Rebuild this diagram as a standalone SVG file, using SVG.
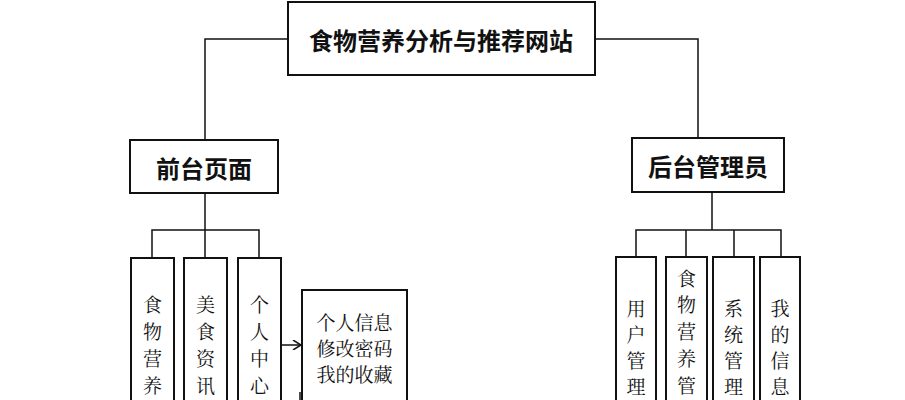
<svg xmlns="http://www.w3.org/2000/svg" width="905" height="400" viewBox="0 0 905 400">
<style>
rect{fill:#fff;stroke:#111;stroke-width:2}
.c{stroke:#111;stroke-width:1.5;fill:none}
text{font-family:"Noto Sans CJK SC",sans-serif;fill:#111;text-anchor:middle;dominant-baseline:central}
.b{font-size:24px;font-weight:bold}
.v{font-size:19px;font-family:"Noto Serif CJK SC","Noto Sans CJK SC",serif}
</style>
<defs><marker id="a" markerWidth="10" markerHeight="10" refX="9" refY="5" orient="auto" markerUnits="userSpaceOnUse"><path d="M1,0 L9,5 L1,10" fill="none" stroke="#111" stroke-width="1.5"/></marker></defs>
<g id="connectors">
<path class="c" d="M288,39 H205 V140 M595,39 H698 V138"/>
<path class="c" d="M205,193 V230 M152,258 V230 H259 V258 M205,230 V258"/>
<path class="c" d="M712,192 V230 M636,257 V230 H781 V257 M686,230 V257 M734,230 V257"/>
<path class="c" d="M281,345 H301" marker-end="url(#a)"/>
<path class="c" d="M300,392 V400"/>
</g>
<g id="root"><rect x="288" y="2" width="307" height="73"/><text class="b" x="441" y="39">食物营养分析与推荐网站</text></g>
<g id="front"><rect x="130" y="140" width="148" height="53"/><text class="b" x="204" y="167">前台页面</text></g>
<g id="back"><rect x="632" y="138" width="152" height="54"/><text class="b" x="708" y="165">后台管理员</text></g>
<g id="f1"><rect x="131" y="258" width="43" height="150"/><text class="v" x="152.5"><tspan x="152.5" y="303">食</tspan><tspan x="152.5" y="330">物</tspan><tspan x="152.5" y="357">营</tspan><tspan x="152.5" y="384">养</tspan></text></g>
<g id="f2"><rect x="184" y="258" width="43" height="150"/><text class="v" x="205.5"><tspan x="205.5" y="303">美</tspan><tspan x="205.5" y="330">食</tspan><tspan x="205.5" y="357">资</tspan><tspan x="205.5" y="384">讯</tspan></text></g>
<g id="f3"><rect x="238" y="258" width="43" height="150"/><text class="v" x="259.5"><tspan x="259.5" y="303">个</tspan><tspan x="259.5" y="330">人</tspan><tspan x="259.5" y="357">中</tspan><tspan x="259.5" y="384">心</tspan></text></g>
<g id="f4"><rect x="302" y="290" width="105" height="120"/><text class="v" x="354.5"><tspan x="354.5" y="321">个人信息</tspan><tspan x="354.5" y="347">修改密码</tspan><tspan x="354.5" y="373">我的收藏</tspan></text></g>
<g id="b1"><rect x="616" y="257" width="40" height="150"/><text class="v" x="636"><tspan x="636" y="307">用</tspan><tspan x="636" y="333">户</tspan><tspan x="636" y="359">管</tspan><tspan x="636" y="385">理</tspan></text></g>
<g id="b2"><rect x="666" y="257" width="41" height="150"/><text class="v" x="686.5"><tspan x="686.5" y="277">食</tspan><tspan x="686.5" y="303">物</tspan><tspan x="686.5" y="330">营</tspan><tspan x="686.5" y="357">养</tspan><tspan x="686.5" y="384">管</tspan></text></g>
<g id="b3"><rect x="713" y="257" width="41" height="150"/><text class="v" x="733.5"><tspan x="733.5" y="307">系</tspan><tspan x="733.5" y="333">统</tspan><tspan x="733.5" y="359">管</tspan><tspan x="733.5" y="385">理</tspan></text></g>
<g id="b4"><rect x="760" y="257" width="40" height="150"/><text class="v" x="780"><tspan x="780" y="307">我</tspan><tspan x="780" y="333">的</tspan><tspan x="780" y="359">信</tspan><tspan x="780" y="385">息</tspan></text></g>
</svg>
